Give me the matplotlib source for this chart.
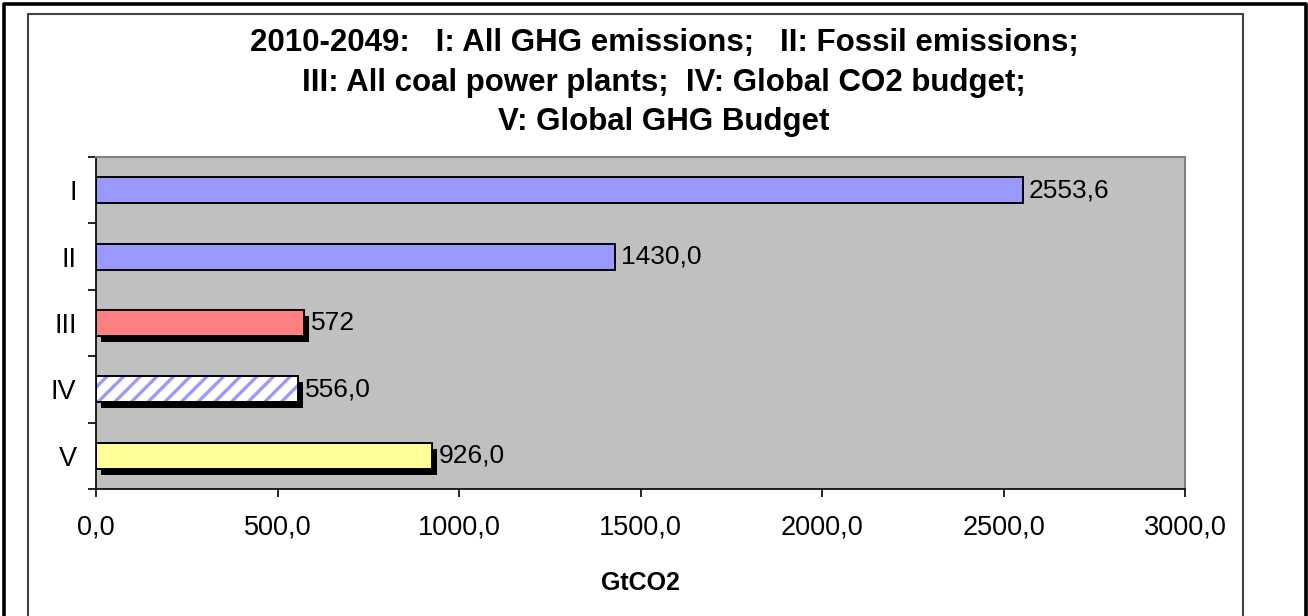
import matplotlib.pyplot as plt
import matplotlib.transforms as mtransforms
from matplotlib.lines import Line2D
from matplotlib.ticker import FixedLocator, FuncFormatter

plt.rcParams['font.family'] = ['Liberation Sans', 'DejaVu Sans']
plt.rcParams['hatch.linewidth'] = 2.4

# cumulative emissions / budgets, 2010-2049
categories = ['I', 'II', 'III', 'IV', 'V']
values = [2553.6, 1430.0, 572, 556.0, 926.0]
value_labels = ['2553,6', '1430,0', '572', '556,0', '926,0']
colors = ['#9999FF', '#9999FF', '#FF8080', '#FFFFFF', '#FFFF99']
hatched = [False, False, False, True, False]
shadowed = [False, False, True, True, True]

title_lines = [
    '2010-2049:   I: All GHG emissions;   II: Fossil emissions;',
    'III: All coal power plants;  IV: Global CO2 budget;',
    'V: Global GHG Budget',
]

W, H = 1308, 616
fig = plt.figure(figsize=(W / 100, H / 100), dpi=100)
fig.patch.set_facecolor('white')

# outer frame (thick) and chart-area frame (thin), both open at the bottom
fig.add_artist(Line2D([4 / W, 4 / W, 1306 / W, 1306 / W],
                      [-0.1, 1 - 4 / H, 1 - 4 / H, -0.1],
                      color='black', lw=2.6, transform=fig.transFigure))
fig.add_artist(Line2D([28 / W, 28 / W, 1243 / W, 1243 / W],
                      [-0.1, 1 - 14 / H, 1 - 14 / H, -0.1],
                      color='#404040', lw=1.5, transform=fig.transFigure))

ax = fig.add_axes([96 / W, 1 - 489 / H, (1185 - 96) / W, (489 - 157) / H])
ax.set_facecolor('#C0C0C0')

pos = list(range(len(categories)))
bar_h = 0.39

# drop shadows, shifted right/down by a few pixels
shadow_tr = ax.transData + mtransforms.ScaledTranslation(5 / 100, -6 / 100, fig.dpi_scale_trans)
for p, v, s in zip(pos, values, shadowed):
    if s:
        ax.barh(p, v, height=bar_h, color='black', lw=0, transform=shadow_tr, zorder=2)

for p, v, c, hat in zip(pos, values, colors, hatched):
    if hat:
        ax.barh(p, v, height=bar_h, facecolor='white', edgecolor='#9999FF',
                hatch='//', lw=0, zorder=3)
        ax.barh(p, v, height=bar_h, facecolor='none', edgecolor='black', lw=1.4, zorder=4)
    else:
        ax.barh(p, v, height=bar_h, facecolor=c, edgecolor='black', lw=1.4, zorder=3)

for p, v, lab, s in zip(pos, values, value_labels, shadowed):
    ax.annotate(lab, (v, p), xytext=(5 if s else 4, 0), textcoords='offset points',
                va='center', ha='left', fontsize=19, color='black', zorder=5)

ax.set_xlim(0, 3000)
ax.set_ylim(len(categories) - 0.5, -0.5)

ax.set_xticks(range(0, 3001, 500))
ax.xaxis.set_major_formatter(FuncFormatter(lambda x, _: f'{x:.1f}'.replace('.', ',')))
ax.tick_params(axis='x', direction='out', length=6, width=1.2, labelsize=19.5, pad=12)

ax.set_yticks(pos)
ax.set_yticklabels(categories)
ax.yaxis.set_minor_locator(FixedLocator([p - 0.5 for p in pos] + [pos[-1] + 0.5]))
ax.tick_params(axis='y', which='major', length=0, labelsize=19.5, pad=14)
ax.tick_params(axis='y', which='minor', direction='out', length=6, width=1.2)

for side in ['left', 'bottom']:
    ax.spines[side].set_color('black')
    ax.spines[side].set_linewidth(1.2)
for side in ['top', 'right']:
    ax.spines[side].set_color('#808080')
    ax.spines[side].set_linewidth(1.5)

ax.set_xlabel('GtCO2', fontsize=18, fontweight='bold', labelpad=22)

for i, line in enumerate(title_lines):
    fig.text(664 / W, 1 - (43 + 39.5 * i) / H, line, ha='center', va='center',
             fontsize=22.5, fontweight='bold')

fig.savefig('out.png', dpi=100)
